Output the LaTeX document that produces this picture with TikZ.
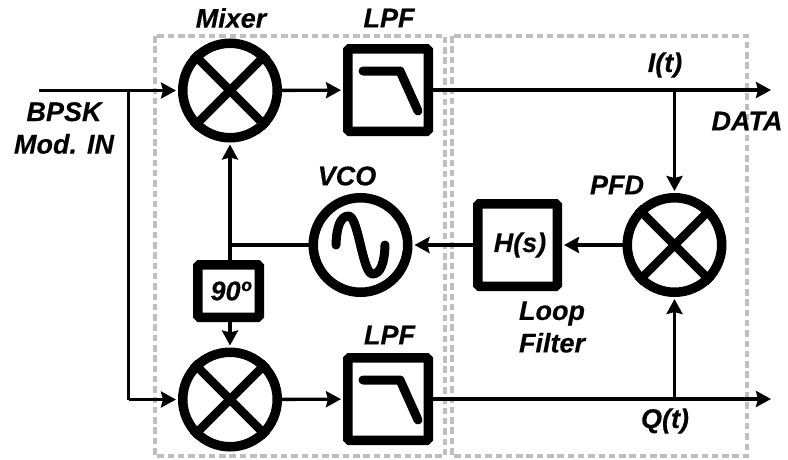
\documentclass[tikz,border=0pt]{standalone}
\usepackage{fontspec}
\setmainfont{Liberation Sans}[BoldItalicFeatures={FakeBold=0.3}]
\usetikzlibrary{arrows.meta}
\tikzset{
  block/.style={draw, line width=9.5pt, rounded corners=1.5pt, inner sep=0pt},
  roundblock/.style={draw, circle, line width=9.5pt, minimum size=94.5pt, inner sep=0pt},
  wire/.style={line width=3.4pt, shorten >=2pt, -{Stealth[length=15pt,width=16pt,inset=2pt]}},
  plainwire/.style={line width=3.4pt},
  glyph/.style={line width=9pt, line cap=round, line join=round},
  region/.style={draw=black!25, line width=3.2pt, dash pattern=on 6.5pt off 3.8pt},
  lbl/.style={font=\fontsize{27}{32.5}\selectfont\bfseries\itshape, inner sep=0pt, align=center}
}
\begin{document}
\begin{tikzpicture}[x=1pt,y=-1pt]
\useasboundingbox (0,0) rectangle (788,459);

\draw[region] (155,36) rectangle (445,456);
\draw[region] (452,36) rectangle (747,456);

\node[roundblock] (mixtop) at (230,90.5) {};
\node[roundblock] (mixbot) at (230,399.5) {};
\node[roundblock] (pfd) at (674.5,245) {};
\node[roundblock] (vco) at (360.5,245) {};
\node[block, minimum width=80.5pt, minimum height=82.5pt] (lpftop) at (388,90) {};
\node[block, minimum width=80.5pt, minimum height=82.5pt] (lpfbot) at (388,399) {};
\node[block, minimum width=79.5pt, minimum height=82.5pt] (hs) at (517.5,245) {};
\node[block, minimum width=61.5pt, minimum height=52.5pt] (shift) at (228.5,291) {};

\foreach \m in {mixtop,mixbot,pfd} {
  \draw[line width=8.5pt] (\m.north west) -- (\m.south east);
  \draw[line width=8.5pt] (\m.north east) -- (\m.south west);
}
\foreach \f in {lpftop,lpfbot} {
  \draw[glyph,shift={(\f)}] (-25,-19) -- (12,-19) -- (30,21);
}
\draw[glyph,shift={(vco)}] (-24.5,0) .. controls (-24,-18) and (-20,-29) .. (-12,-29)
  .. controls (-2,-29) and (2,29) .. (12,29) .. controls (20,29) and (24,18) .. (24.5,0);

\coordinate (input) at (39,90.5);
\coordinate (split) at (128.5,90.5);
\coordinate (splitbot) at (128.5,399.5);
\coordinate (outtop) at (771,90);
\coordinate (outbot) at (771,399);
\coordinate (tapi) at (674.5,90);
\coordinate (tapq) at (674.5,399);
\coordinate (tapvco) at (230,245);

\draw[wire] (input) -- (mixtop);
\draw[plainwire] (split) -- (splitbot);
\draw[wire] (splitbot) -- (mixbot);
\draw[wire] (mixtop) -- (lpftop);
\draw[wire] (mixbot) -- (lpfbot);
\draw[wire,shorten >=0pt] (lpftop) -- (outtop);
\draw[wire,shorten >=0pt] (lpfbot) -- (outbot);
\draw[wire] (tapi) -- (pfd);
\draw[wire] (tapq) -- (pfd);
\draw[wire] (pfd) -- (hs);
\draw[wire] (hs) -- (vco);
\draw[plainwire] (vco) -- (tapvco);
\draw[wire] (tapvco) -- (mixtop);
\draw[plainwire] (tapvco) -- (tapvco |- shift.north);
\draw[wire] (shift.south -| mixbot) -- (mixbot);

\node[lbl] (mixlbl) at (231,18) {Mixer};
\node[lbl] (lpftoplbl) at (389,18) {LPF};
\node[lbl] (lpfbotlbl) at (389.5,335) {LPF};
\node[lbl] (vcolbl) at (347,176) {VCO};
\node[lbl] (pfdlbl) at (617,185) {PFD};
\node[lbl] (ilbl) at (665,65) {I(t)};
\node[lbl] (qlbl) at (665,421) {Q(t)};
\node[lbl] (datalbl) at (747,121) {DATA};
\node[lbl] (bpsklbl) at (64,128) {BPSK\\Mod. IN};
\node[lbl] (hslbl) at (520,245) {H(s)};
\node[lbl] (looplbl) at (552,327) {Loop\\Filter};
\node[lbl] (shiftlbl) at (230.5,291) {90º};
\end{tikzpicture}
\end{document}
